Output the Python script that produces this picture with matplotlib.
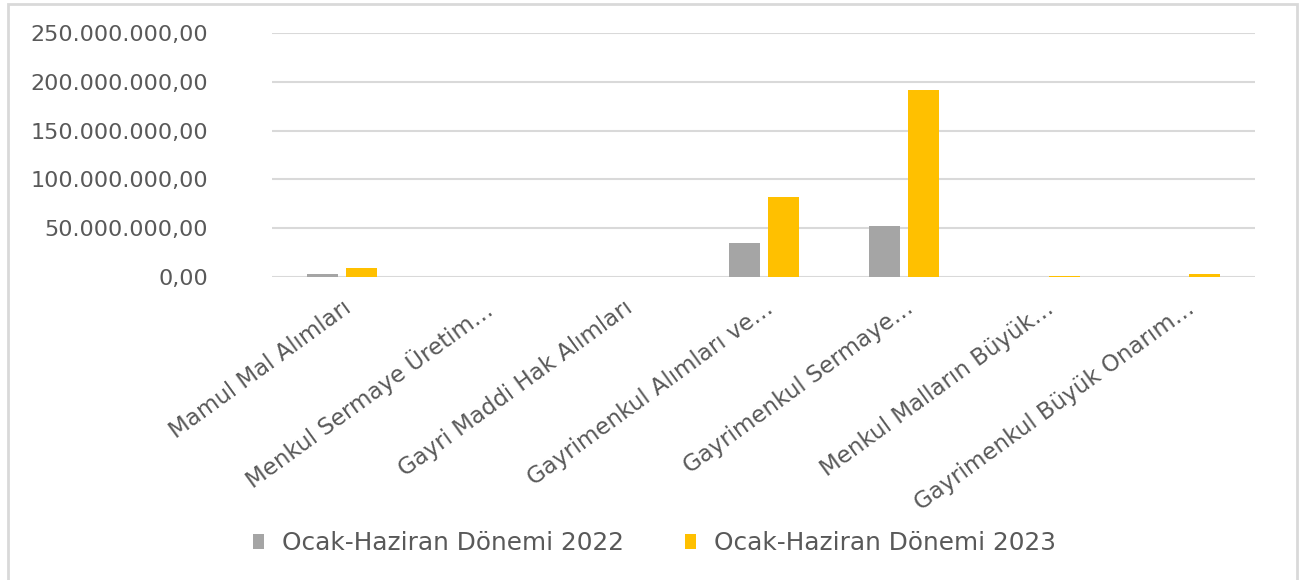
import matplotlib
matplotlib.use("Agg")
import matplotlib.pyplot as plt
import numpy as np
from matplotlib.patches import Rectangle
from matplotlib.ticker import FuncFormatter

# ── data ──────────────────────────────────────────────────────────────────────
categories = [
    "Mamul Mal Alımları",
    "Menkul Sermaye Üretim…",
    "Gayri Maddi Hak Alımları",
    "Gayrimenkul Alımları ve…",
    "Gayrimenkul Sermaye…",
    "Menkul Malların Büyük…",
    "Gayrimenkul Büyük Onarım…",
]
values_2022 = [3.4e6, 0, 0, 35.0e6, 52.4e6, 0, 0]
values_2023 = [8.9e6, 0, 0, 82.5e6, 192.1e6, 1.0e6, 3.4e6]
series_names = ["Ocak-Haziran Dönemi 2022", "Ocak-Haziran Dönemi 2023"]

GRAY = "#A5A5A5"
YELLOW = "#FFC000"
TEXT = "#595959"
GRID = "#D9D9D9"

plt.rcParams["font.family"] = ["DejaVu Sans"]


def tr_fmt(v, _pos=None):
    s = f"{v:,.2f}"
    return s.replace(",", "X").replace(".", ",").replace("X", ".")


fig = plt.figure(figsize=(13.01, 5.80), dpi=100)
ax = fig.add_axes([0.209, 0.5224, 0.756, 0.4206])

x = np.arange(len(categories))
w = 0.22
off = 0.139
ax.bar(x - off, values_2022, w, color=GRAY, label=series_names[0], zorder=3)
ax.bar(x + off, values_2023, w, color=YELLOW, label=series_names[1], zorder=3)

ax.set_xlim(-0.5, len(categories) - 0.5)
ax.set_ylim(0, 250e6)
ax.set_yticks(np.arange(0, 250e6 + 1, 50e6))
ax.yaxis.set_major_formatter(FuncFormatter(tr_fmt))
ax.grid(axis="y", color=GRID, lw=1.5, zorder=0)
for sp in ax.spines.values():
    sp.set_visible(False)
ax.tick_params(axis="y", length=0, pad=46, labelsize=16, labelcolor=TEXT)
ax.tick_params(axis="x", length=0, pad=14, labelsize=16.5, labelcolor=TEXT)

ax.set_xticks(x)
ax.set_xticklabels(categories, rotation=36, ha="right", va="top",
                   rotation_mode="anchor")

leg = fig.legend(loc="center", bbox_to_anchor=(0.503, 0.064), ncol=2,
                 frameon=False, fontsize=17.8, handlelength=0.45, handleheight=0.55,
                 handletextpad=0.7, columnspacing=2.5)
for t in leg.get_texts():
    t.set_color(TEXT)

fig.patches.append(Rectangle((8 / 1301, -0.05), 1289 / 1301, 1.05 - 4 / 580,
                             transform=fig.transFigure, fill=False,
                             edgecolor=GRID, lw=2))

fig.savefig("out.png", dpi=100, facecolor="white")
